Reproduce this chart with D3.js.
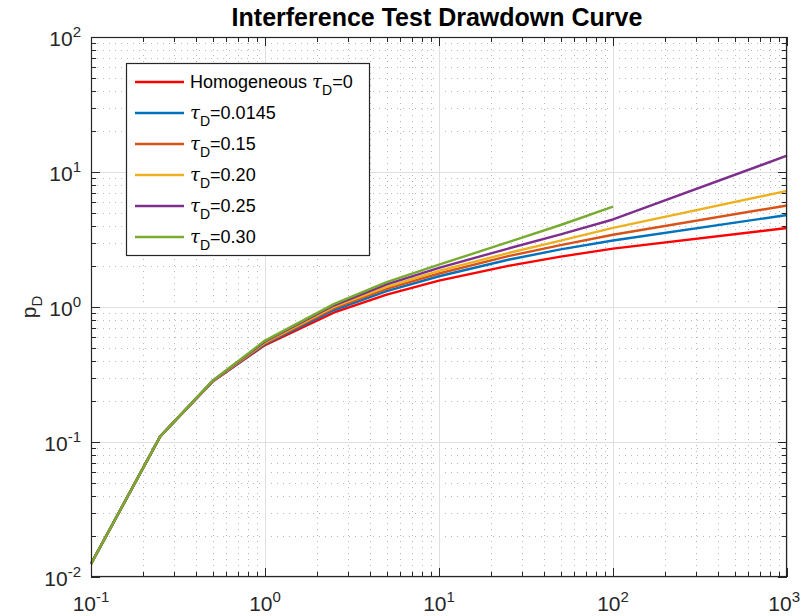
<!DOCTYPE html>
<html><head><meta charset="utf-8">
<script src="https://cdn.jsdelivr.net/npm/d3@7"></script>
<style>
html,body{margin:0;padding:0;background:#fff;}
svg{display:block;font-family:"Liberation Sans",Arial,Helvetica,sans-serif;}
</style></head>
<body><svg id="chart" width="801" height="616"></svg>
<script>
// ---- data ----
const tD = [0.1, 0.25, 0.5, 1, 2.5, 5, 10, 25, 50, 100, 1000];
const seriesNames = ["Homogeneous", "0.0145", "0.15", "0.20", "0.25", "0.30"];
const seriesColors = ["#ff0000", "#0072bd", "#d95319", "#edb120", "#7e2f8e", "#77ac30"];
const pHomog  = [0.0125, 0.110, 0.280, 0.522, 0.911, 1.234, 1.568, 2.019, 2.363, 2.708, 3.85];
const pT0145  = [0.0125, 0.110, 0.281, 0.530, 0.950, 1.31, 1.69, 2.24, 2.67, 3.11, 4.80];
const pT015   = [0.0125, 0.110, 0.282, 0.538, 0.980, 1.36, 1.77, 2.38, 2.87, 3.43, 5.65];
const pT020   = [0.0125, 0.110, 0.283, 0.546, 1.005, 1.41, 1.85, 2.51, 3.10, 3.86, 7.25];
const pT025   = [0.0125, 0.110, 0.284, 0.555, 1.030, 1.47, 1.95, 2.71, 3.45, 4.45, 13.2];
const pT030   = [0.0125, 0.110, 0.285, 0.564, 1.055, 1.53, 2.06, 3.02, 4.05, 5.55];
const seriesValues = [pHomog, pT0145, pT015, pT020, pT025, pT030];
const xTickExps = [-1, 0, 1, 2, 3];
const yTickExps = [-2, -1, 0, 1, 2];

// ---- layout ----
const svg = d3.select("#chart");
const L = 91, R = 787, T = 37, B = 577;
const x = d3.scaleLog().domain([0.1, 1000]).range([L, R]);
const y = d3.scaleLog().domain([0.01, 100]).range([B, T]);

const minorVals = (lo, hi) => {
  const out = [];
  for (let e = lo; e < hi; e++) for (let k = 2; k <= 9; k++) out.push(k * Math.pow(10, e));
  return out;
};
const xMinor = minorVals(-1, 3), yMinor = minorVals(-2, 2);

const g = svg.append("g");
// minor grid (dotted)
g.selectAll(".xmg").data(xMinor).enter().append("line")
  .attr("x1", d => Math.round(x(d)) + 0.5).attr("x2", d => Math.round(x(d)) + 0.5)
  .attr("y1", T).attr("y2", B)
  .attr("stroke", "#b8b8b8").attr("stroke-width", 1).attr("stroke-dasharray", "1,5");
g.selectAll(".ymg").data(yMinor).enter().append("line")
  .attr("y1", d => Math.round(y(d)) + 0.5).attr("y2", d => Math.round(y(d)) + 0.5)
  .attr("x1", L).attr("x2", R)
  .attr("stroke", "#b8b8b8").attr("stroke-width", 1).attr("stroke-dasharray", "1,5");
// major grid
g.selectAll(".xg").data(xTickExps).enter().append("line")
  .attr("x1", d => Math.round(x(Math.pow(10, d))) + 0.5).attr("x2", d => Math.round(x(Math.pow(10, d))) + 0.5)
  .attr("y1", T).attr("y2", B).attr("stroke", "#dfdfdf").attr("stroke-width", 1);
g.selectAll(".yg").data(yTickExps).enter().append("line")
  .attr("y1", d => Math.round(y(Math.pow(10, d))) + 0.5).attr("y2", d => Math.round(y(Math.pow(10, d))) + 0.5)
  .attr("x1", L).attr("x2", R).attr("stroke", "#dfdfdf").attr("stroke-width", 1);

// curves
const line = d3.line().x(d => x(d[0])).y(d => y(d[1]));
seriesValues.forEach((vals, i) => {
  const pts = vals.map((v, j) => [tD[j], v]);
  svg.append("path").attr("d", line(pts)).attr("fill", "none")
    .attr("stroke", seriesColors[i]).attr("stroke-width", 2.4).attr("stroke-linejoin", "round");
});

// axes box & ticks (inward, both sides)
const axc = "#262626";
const ax = svg.append("g");
ax.append("rect").attr("x", L + 0.5).attr("y", T + 0.5).attr("width", R - L - 1).attr("height", B - T - 1)
  .attr("fill", "none").attr("stroke", axc).attr("stroke-width", 1.2);
const majLen = 9, minLen = 5;
const xt = [...xTickExps.map(e => ({v: Math.pow(10, e), len: majLen})), ...xMinor.map(v => ({v, len: minLen}))];
const yt = [...yTickExps.map(e => ({v: Math.pow(10, e), len: majLen})), ...yMinor.map(v => ({v, len: minLen}))];
xt.forEach(t => {
  const px = Math.round(x(t.v)) + 0.5;
  ax.append("line").attr("x1", px).attr("x2", px).attr("y1", B).attr("y2", B - t.len).attr("stroke", axc);
  ax.append("line").attr("x1", px).attr("x2", px).attr("y1", T).attr("y2", T + t.len).attr("stroke", axc);
});
yt.forEach(t => {
  const py = Math.round(y(t.v)) + 0.5;
  ax.append("line").attr("y1", py).attr("y2", py).attr("x1", L).attr("x2", L + t.len).attr("stroke", axc);
  ax.append("line").attr("y1", py).attr("y2", py).attr("x1", R).attr("x2", R - t.len).attr("stroke", axc);
});

// tick labels
xTickExps.forEach((e, i) => {
  const last = i === xTickExps.length - 1;
  const t = svg.append("text").attr("x", last ? 800 : x(Math.pow(10, e))).attr("y", 611)
    .attr("text-anchor", last ? "end" : "middle").attr("fill", axc).attr("font-size", 21);
  t.append("tspan").text("10");
  t.append("tspan").attr("dy", -9).attr("font-size", 15).text(String(e));
});
yTickExps.forEach(e => {
  const t = svg.append("text").attr("x", 81).attr("y", y(Math.pow(10, e)) + 9)
    .attr("text-anchor", "end").attr("fill", axc).attr("font-size", 21);
  t.append("tspan").text("10");
  t.append("tspan").attr("dy", -9).attr("font-size", 15).text(String(e));
});

// title
svg.append("text").attr("x", 437).attr("y", 26).attr("text-anchor", "middle")
  .attr("font-weight", "bold").attr("font-size", 25).attr("fill", "#000")
  .text("Interference Test Drawdown Curve");

// y label
const yl = svg.append("text").attr("transform", "translate(36,307) rotate(-90)")
  .attr("text-anchor", "middle").attr("fill", axc).attr("font-size", 21);
yl.append("tspan").text("p");
yl.append("tspan").attr("dy", 6).attr("font-size", 15).text("D");

// legend
const lg = svg.append("g");
lg.append("rect").attr("x", 126.5).attr("y", 63.5).attr("width", 243).attr("height", 192)
  .attr("fill", "#fff").attr("stroke", axc).attr("stroke-width", 1.2);
seriesNames.forEach((n, i) => {
  const ly = 82 + i * 31;
  lg.append("line").attr("x1", 135).attr("x2", 184).attr("y1", ly).attr("y2", ly)
    .attr("stroke", seriesColors[i]).attr("stroke-width", 2.4);
  const t = lg.append("text").attr("x", 190).attr("y", ly + 6).attr("font-size", 18).attr("fill", "#000");
  if (i === 0) t.append("tspan").text("Homogeneous ");
  t.append("tspan").attr("font-family", "'DejaVu Serif',serif").attr("font-style", "italic").text("τ");
  t.append("tspan").attr("dy", 7).attr("font-size", 14).text("D");
  t.append("tspan").attr("dy", -7).text("=" + (i === 0 ? "0" : n));
});
</script></body></html>
